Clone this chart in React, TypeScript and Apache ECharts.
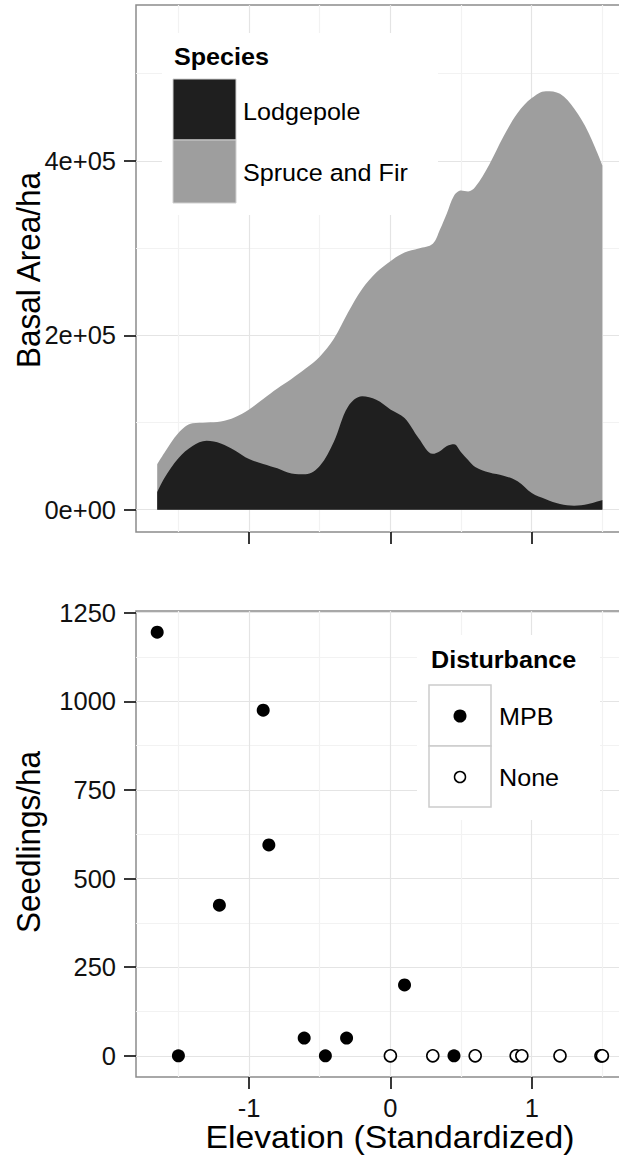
import React, { useEffect, useRef } from "react";
import * as echarts from "echarts";

// Stand basal area by elevation (standardized), per species group
const elevation = [
  -1.65, -1.6, -1.5, -1.4, -1.3, -1.2, -1.1, -1.0, -0.9, -0.8, -0.7, -0.6, -0.5, -0.4, -0.3, -0.2, -0.1, 0,
  0.1, 0.2, 0.3, 0.35, 0.4, 0.45, 0.5, 0.55, 0.6, 0.7, 0.8, 0.9, 1.0, 1.1, 1.2, 1.3, 1.4, 1.5,
];
// thousands of basal area units per ha
const lodgepole = [
  20, 36, 59, 73, 79, 76, 68, 58, 52.5, 47.5, 41.5, 40.5, 50, 78, 118, 130, 126, 115,
  105, 82, 64, 67, 73, 75, 66, 57, 49, 42.5, 39, 32.5, 19, 12, 6.5, 4.6, 6.5, 11,
];
const spruceFir = [
  32, 29, 29, 26, 21, 25, 38, 57, 74.5, 91.5, 108.5, 121.5, 125.5, 118, 108, 123, 146, 170,
  190, 217.5, 241, 254, 267, 285, 300, 308, 321, 353.5, 389, 422.5, 453, 468, 470.5, 455.4, 426.5, 384,
];

// Seedling plots
const mpbElevation = [-1.65, -1.5, -1.21, -0.9, -0.86, -0.61, -0.46, -0.31, 0.1, 0.45];
const mpbSeedlings = [1195, 0, 425, 975, 595, 50, 0, 50, 200, 0];
const noneElevation = [0.0, 0.3, 0.6, 0.89, 0.93, 1.2, 1.49, 1.5];
const noneSeedlings = [0, 0, 0, 0, 0, 0, 0, 0];

// Axis breaks
const elevTicks = [-1, 0, 1];
const elevMinor = [-1.5, -0.5, 0.5, 1.5];
const basalTicks = [0, 200000, 400000];
const basalTickLabels = ["0e+00", "2e+05", "4e+05"];
const basalMinor = [100000, 300000, 500000];
const seedTicks = [0, 250, 500, 750, 1000, 1250];
const seedMinor = [125, 375, 625, 875, 1125];

const FONT = "'Liberation Sans', Arial, Helvetica, sans-serif";
const MAJOR = "#e4e4e4";
const MINOR = "#f2f2f2";
const TICK = { length: 12, lineStyle: { color: "#222", width: 1.8 } };
const LABEL = { fontSize: 25.5, color: "#111", fontFamily: FONT };
const STRETCH = 1.07;

const X_MIN = -1.8;
const X_MAX = 1.66;

function majorAxis(extra: any, ticks: number[], showLabels: boolean, formatter: (v: number) => string, margin: number) {
  return {
    type: "value",
    ...extra,
    axisLine: { show: false, onZero: false },
    axisTick: { show: true, customValues: ticks, ...TICK },
    axisLabel: { show: showLabels, customValues: ticks, margin, formatter, ...LABEL },
    splitLine: { show: true, customValues: ticks, lineStyle: { color: MAJOR, width: 1.2 } },
    minorTick: { show: false },
    minorSplitLine: { show: false },
  };
}

function minorAxis(extra: any, ticks: number[]) {
  return {
    type: "value",
    ...extra,
    axisLine: { show: false, onZero: false },
    axisTick: { show: false, customValues: ticks },
    axisLabel: { show: false, customValues: ticks },
    splitLine: { show: true, customValues: ticks, lineStyle: { color: MINOR, width: 1.2 } },
  };
}

function text(str: string, x: number, y: number, size: number, opts: any = {}) {
  return {
    type: "text",
    x,
    y,
    z: 5,
    scaleX: opts.rotation ? 1 : STRETCH,
    scaleY: opts.rotation ? STRETCH : 1,
    rotation: opts.rotation || 0,
    style: {
      text: str,
      fontSize: size,
      fontFamily: FONT,
      fontWeight: opts.bold ? "bold" : "normal",
      fill: "#000",
      align: opts.align || "left",
      verticalAlign: "middle",
    },
  };
}

export default function App() {
  const ref = useRef<HTMLDivElement>(null);

  useEffect(() => {
    if (!ref.current) return;
    const chart = echarts.init(ref.current, undefined, { renderer: "svg" });

    const gridBase = {
      show: true,
      borderColor: "#8c8c8c",
      borderWidth: 1.5,
      backgroundColor: "transparent",
      left: 136,
      width: 489,
      containLabel: false,
      outerBoundsMode: "none",
    };

    // species areas are stacked: the spruce/fir band sits on top of lodgepole
    const stackedTop = elevation.map((x, i) => [x, (lodgepole[i] + spruceFir[i]) * 1000]);
    const lodgepoleBand = elevation.map((x, i) => [x, lodgepole[i] * 1000]);

    const option: any = {
      animation: false,
      backgroundColor: "#ffffff",
      grid: [
        { ...gridBase, top: 5, height: 527 },
        { ...gridBase, top: 611, height: 466 },
      ],
      xAxis: [
        majorAxis({ gridIndex: 0, min: X_MIN, max: X_MAX, position: "bottom" }, elevTicks, false, (v) => String(v), 18),
        minorAxis({ gridIndex: 0, min: X_MIN, max: X_MAX, position: "top" }, elevMinor),
        majorAxis({ gridIndex: 1, min: X_MIN, max: X_MAX, position: "bottom" }, elevTicks, true, (v) => String(v), 18),
        minorAxis({ gridIndex: 1, min: X_MIN, max: X_MAX, position: "top" }, elevMinor),
      ],
      yAxis: [
        majorAxis(
          { gridIndex: 0, min: -25600, max: 578800, position: "left" },
          basalTicks,
          true,
          (v) => basalTickLabels[basalTicks.indexOf(v)] ?? "",
          20
        ),
        minorAxis({ gridIndex: 0, min: -25600, max: 578800, position: "right" }, basalMinor),
        majorAxis({ gridIndex: 1, min: -59.75, max: 1254.75, position: "left" }, seedTicks, true, (v) => String(v), 20),
        minorAxis({ gridIndex: 1, min: -59.75, max: 1254.75, position: "right" }, seedMinor),
      ],
      series: [
        {
          name: "Spruce and Fir",
          type: "line",
          xAxisIndex: 0,
          yAxisIndex: 0,
          z: 2,
          smooth: 0.35,
          showSymbol: false,
          symbol: "none",
          lineStyle: { width: 0 },
          areaStyle: { color: "#9e9e9e", opacity: 1 },
          data: stackedTop,
        },
        {
          name: "Lodgepole",
          type: "line",
          xAxisIndex: 0,
          yAxisIndex: 0,
          z: 3,
          smooth: 0.35,
          showSymbol: false,
          symbol: "none",
          lineStyle: { width: 0 },
          areaStyle: { color: "#1f1f1f", opacity: 1 },
          data: lodgepoleBand,
        },
        {
          name: "MPB",
          type: "scatter",
          xAxisIndex: 2,
          yAxisIndex: 2,
          symbol: "circle",
          symbolSize: 13,
          itemStyle: { color: "#000", opacity: 1 },
          data: mpbElevation.map((x, i) => [x, mpbSeedlings[i]]),
        },
        {
          name: "None",
          type: "scatter",
          xAxisIndex: 2,
          yAxisIndex: 2,
          symbol: "circle",
          symbolSize: 12,
          itemStyle: { color: "#fff", borderColor: "#000", borderWidth: 1.6, opacity: 1 },
          data: noneElevation.map((x, i) => [x, noneSeedlings[i]]),
        },
      ],
      graphic: [
        // axis titles
        text("Basal Area/ha", 28, 270, 31.5, { rotation: Math.PI / 2, align: "center" }),
        text("Seedlings/ha", 28, 842, 31.5, { rotation: Math.PI / 2, align: "center" }),
        text("Elevation (Standardized)", 390, 1137, 31.5, { align: "center" }),
        // species legend
        { type: "rect", z: 1, shape: { x: 162, y: 33, width: 276, height: 182 }, style: { fill: "#fff" } },
        text("Species", 174, 57, 23.5, { bold: true }),
        { type: "rect", z: 3, shape: { x: 173, y: 79, width: 63, height: 61 }, style: { fill: "#1f1f1f", stroke: "#d0d0d0", lineWidth: 1 } },
        { type: "rect", z: 3, shape: { x: 173, y: 140, width: 63, height: 63 }, style: { fill: "#9e9e9e", stroke: "#d0d0d0", lineWidth: 1 } },
        text("Lodgepole", 243, 112, 23.5),
        text("Spruce and Fir", 243, 173, 23.5),
        // disturbance legend
        { type: "rect", z: 1, shape: { x: 417, y: 635, width: 183, height: 185 }, style: { fill: "#fff" } },
        text("Disturbance", 431, 660, 23.5, { bold: true }),
        { type: "rect", z: 3, shape: { x: 429, y: 685, width: 62, height: 61 }, style: { fill: "#fff", stroke: "#cccccc", lineWidth: 1.5 } },
        { type: "rect", z: 3, shape: { x: 429, y: 746, width: 62, height: 61 }, style: { fill: "#fff", stroke: "#cccccc", lineWidth: 1.5 } },
        { type: "circle", z: 4, shape: { cx: 460, cy: 716, r: 6.5 }, style: { fill: "#000" } },
        { type: "circle", z: 4, shape: { cx: 460, cy: 777, r: 5.5 }, style: { fill: "#fff", stroke: "#000", lineWidth: 1.5 } },
        text("MPB", 499, 717, 23.5),
        text("None", 499, 778, 23.5),
      ],
    };

    chart.setOption(option);
    return () => chart.dispose();
  }, []);

  return (
    <div
      ref={ref}
      style={{ position: "absolute", left: 0, top: 0, width: 619, height: 1155, background: "#fff" }}
    />
  );
}
